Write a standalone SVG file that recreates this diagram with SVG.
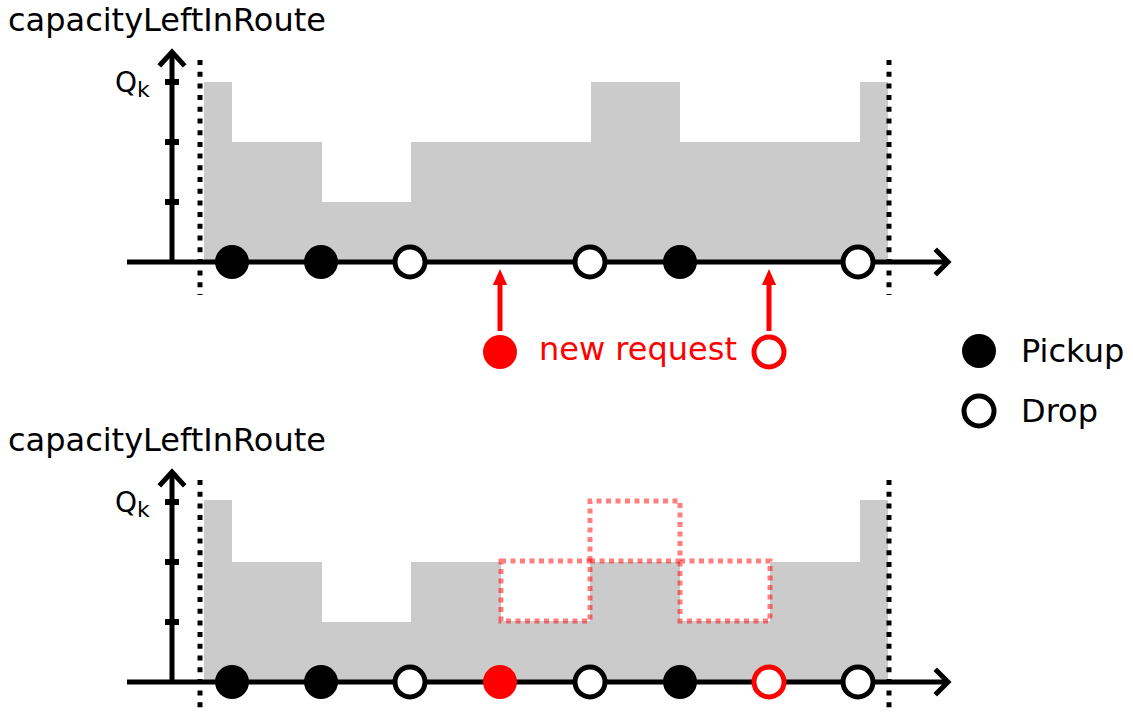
<svg xmlns="http://www.w3.org/2000/svg" width="1133" height="713" viewBox="0 0 1133 713">
<defs>
<style>
.t{font-family:"DejaVu Sans","Verdana",sans-serif;font-size:32px;fill:#000}
.q{font-family:"DejaVu Sans","Verdana",sans-serif;font-size:28px;fill:#000}
.area{fill:#cbcbcb}
.ax{stroke:#000;stroke-width:5;fill:none}
.tick{stroke:#000;stroke-width:6;fill:none}
.head{stroke:#000;stroke-width:5;fill:none;stroke-linecap:square}
.dot{stroke:#000;stroke-width:5;stroke-dasharray:5 6.7;fill:none}
.pk{fill:#000}
.dr{fill:#fff;stroke:#000;stroke-width:5}
.rpk{fill:#ff0000}
.rdr{fill:#fff;stroke:#ff0000;stroke-width:5}
.rbox{fill:#fff;stroke:#ff0000;stroke-opacity:0.5;stroke-width:5;stroke-dasharray:5 4.5}
.rline{fill:none;stroke:#ff0000;stroke-opacity:0.5;stroke-width:5;stroke-dasharray:5 4.5}
.rarr{stroke:#ff0000;stroke-width:5;fill:none}
</style>
<marker id="ra" markerWidth="16" markerHeight="18" refX="0" refY="8" orient="auto" markerUnits="userSpaceOnUse" viewBox="0 0 18 16"><path d="M0,0 L18,8 L0,16 Z" fill="#ff0000"/></marker>
</defs>
<g id="panel-top">
<text class="t" x="8" y="31">capacityLeftInRoute</text>
<path class="area" d="M204,262 V82 H232 V142 H322 V202 H411 V142 H591 V82 H680 V142 H860 V82 H888 V262 Z"/>
<path class="ax" d="M172,262 V52"/>
<path class="tick" d="M165,82 H179 M165,142 H179 M165,202 H179"/>
<path class="head" d="M161,64 L172,52 L183,64"/>
<path class="ax" d="M127,262 H948"/>
<path class="head" d="M937,251 L948,262 L937,273"/>
<path class="dot" d="M200,60 V295 M889,60 V295"/>
<text class="q" x="115" y="92">Q<tspan font-size="22" dy="5">k</tspan></text>
<g id="top-nodes">
<circle class="pk" cx="232" cy="262" r="17"/>
<circle class="pk" cx="321" cy="262" r="17"/>
<circle class="dr" cx="410" cy="262" r="15"/>
<circle class="dr" cx="590" cy="262" r="15"/>
<circle class="pk" cx="680" cy="262" r="17"/>
<circle class="dr" cx="858" cy="262" r="15"/>
</g>
</g>
<g id="new-request">
<circle class="rpk" cx="500" cy="352" r="17"/>
<circle class="rdr" cx="769" cy="352" r="15"/>
<text class="t" x="539" y="360" style="fill:#ff0000">new request</text>
</g>
<g id="connectors">
<path class="rarr" d="M500,331 V285" marker-end="url(#ra)"/>
<path class="rarr" d="M769,331 V285" marker-end="url(#ra)"/>
</g>
<g id="legend">
<circle class="pk" cx="979" cy="351" r="17"/>
<text class="t" x="1021" y="362">Pickup</text>
<circle class="dr" cx="979" cy="411" r="15"/>
<text class="t" x="1021" y="422">Drop</text>
</g>
<g id="panel-bottom">
<text class="t" x="8" y="451">capacityLeftInRoute</text>
<path class="area" d="M204,682 V500 H232 V562 H322 V622 H411 V562 H860 V500 H888 V682 Z"/>
<path class="ax" d="M172,682 V472"/>
<path class="tick" d="M165,502 H179 M165,562 H179 M165,622 H179"/>
<path class="head" d="M161,484 L172,472 L183,484"/>
<path class="ax" d="M127,682 H948"/>
<path class="head" d="M937,671 L948,682 L937,693"/>
<path class="dot" d="M200,480 V713 M889,480 V713"/>
<text class="q" x="115" y="512">Q<tspan font-size="22" dy="5">k</tspan></text>
<rect class="rbox" x="501" y="561" width="89" height="60"/>
<rect class="rbox" x="680" y="561" width="90" height="60"/>
<path class="rline" d="M590,561 V501 H680 V561 M590,561 H680"/>
<g id="bottom-nodes">
<circle class="pk" cx="232" cy="682" r="17"/>
<circle class="pk" cx="321" cy="682" r="17"/>
<circle class="dr" cx="410" cy="682" r="15"/>
<circle class="rpk" cx="500" cy="682" r="17"/>
<circle class="dr" cx="590" cy="682" r="15"/>
<circle class="pk" cx="680" cy="682" r="17"/>
<circle class="rdr" cx="769" cy="682" r="15"/>
<circle class="dr" cx="858" cy="682" r="15"/>
</g>
</g>
</svg>
